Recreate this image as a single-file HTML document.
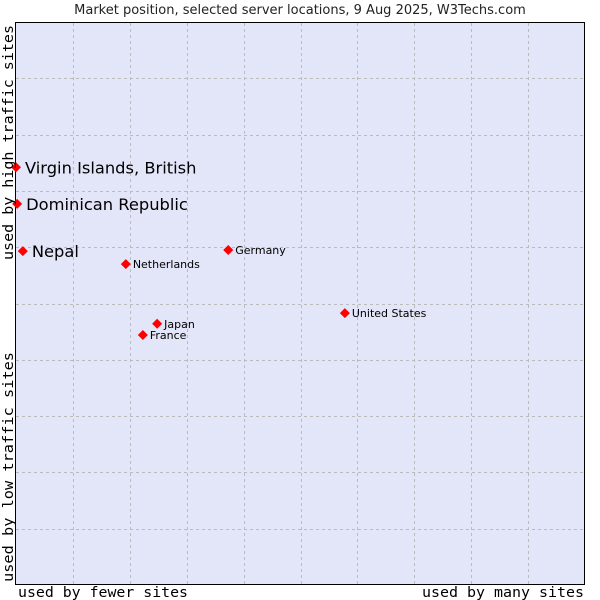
<!DOCTYPE html>
<html><head><meta charset="utf-8"><style>
body{margin:0;background:#fff;width:600px;height:600px;overflow:hidden}
svg{display:block;font-family:"DejaVu Sans","Liberation Sans",sans-serif}
</style></head><body>
<svg id="c" width="600" height="600">
<text x="300" y="14" text-anchor="middle" font-size="13" fill="#222">Market position, selected server locations, 9 Aug 2025, W3Techs.com</text>
<rect x="15.5" y="22.5" width="569" height="562" fill="#e3e5f8" stroke="#000"/>
<g id="grid"></g>
<g id="pts"></g>
<text x="18" y="597" textLength="170" lengthAdjust="spacingAndGlyphs" font-family="DejaVu Sans Mono,Liberation Mono,monospace" font-size="14" fill="#000">used by fewer sites</text>
<text x="422" y="597" textLength="162" lengthAdjust="spacingAndGlyphs" font-family="DejaVu Sans Mono,Liberation Mono,monospace" font-size="14" fill="#000">used by many sites</text>
<text transform="translate(13,582) rotate(-90)" textLength="230" lengthAdjust="spacingAndGlyphs" font-family="DejaVu Sans Mono,Liberation Mono,monospace" font-size="14" fill="#000">used by low traffic sites</text>
<text transform="translate(13,260) rotate(-90)" textLength="235" lengthAdjust="spacingAndGlyphs" font-family="DejaVu Sans Mono,Liberation Mono,monospace" font-size="14" fill="#000">used by high traffic sites</text>
</svg>
<script>
const names=["Virgin Islands, British","Dominican Republic","Nepal","Netherlands","Germany","United States","Japan","France"];
const xVals=[0,0.2,1.2,19.3,37.3,57.8,24.8,22.3];
const yVals=[74.2,67.7,59.3,57.0,59.5,48.3,46.4,44.4];
const bigLabel=[true,true,true,false,false,false,false,false];
const L=16,R=585,T=22,B=585;
const sx=v=>L+v/100*(R-L), sy=v=>B-v/100*(B-T);
const NS="http://www.w3.org/2000/svg";
const grid=document.getElementById('grid'), pts=document.getElementById('pts');
for(let i=1;i<10;i++){
  let x=Math.round(sx(i*10))+0.5, y=Math.round(sy(i*10))+0.5;
  let v=document.createElementNS(NS,'line');
  
  
  v.setAttribute('x1',x);v.setAttribute('x2',x);v.setAttribute('y1',T+1);v.setAttribute('y2',B);
  v.setAttribute('stroke','#bbb');v.setAttribute('stroke-dasharray','3,3');grid.appendChild(v);
  let h=document.createElementNS(NS,'line');
  
  
  h.setAttribute('x1',L);h.setAttribute('x2',R);h.setAttribute('y1',y);h.setAttribute('y2',y);
  h.setAttribute('stroke','#bbb');h.setAttribute('stroke-dasharray','3,3');grid.appendChild(h);
}
names.forEach((n,i)=>{
  const x=sx(xVals[i]), y=sy(yVals[i]);
  const d=document.createElementNS(NS,'polygon');
  
  
  d.setAttribute('points',`${x},${y-5} ${x+5},${y} ${x},${y+5} ${x-5},${y}`);
  d.setAttribute('fill','#f00');pts.appendChild(d);
  const t=document.createElementNS(NS,'text');
  
  
  const big=bigLabel[i];
  t.setAttribute('x',x+(big?9:7));t.setAttribute('y',y+(big?6:4));
  t.setAttribute('font-size',big?16.3:11);t.setAttribute('fill','#000');
  t.textContent=n;pts.appendChild(t);
});
</script>
</body></html>
